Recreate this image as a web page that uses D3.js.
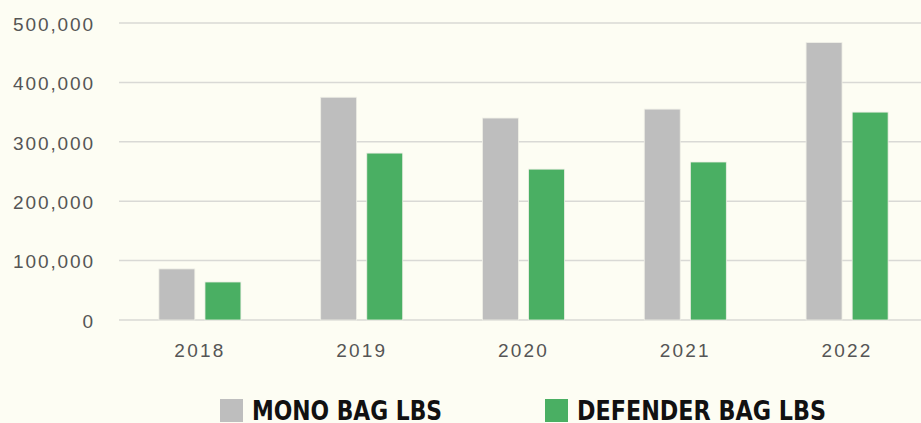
<!DOCTYPE html>
<html>
<head>
<meta charset="utf-8">
<script src="https://cdn.jsdelivr.net/npm/d3@7"></script>
<style>
  html, body { margin: 0; padding: 0; background: #fdfdf3; }
  svg { display: block; }
</style>
</head>
<body>
<div id="chart"></div>
<script>
// Data
var years = ['2018', '2019', '2020', '2021', '2022'];
var series = ['MONO BAG LBS', 'DEFENDER BAG LBS'];
var monoLbs = [86000, 375000, 340000, 355000, 467000];
var defenderLbs = [64000, 281000, 254000, 266000, 350000];
var yTicks = [0, 100000, 200000, 300000, 400000, 500000];
var colors = ['#bebebe', '#4aaf63'];

var w = 921;
var h = 423;

var svg = d3.select('#chart')
            .append('svg')
            .attr('width', w)
            .attr('height', h);

// plot area (no "top" here, that's window.top)
var plotLeft = 119, plotRight = 928, plotTop = 23, plotBottom = 320;

var x0 = d3.scaleBand()
           .domain(years)
           .range([plotLeft, plotRight])
           .paddingInner(0.493)
           .paddingOuter(0.2465);

var x1 = d3.scaleBand()
           .domain(series)
           .range([0, x0.bandwidth()])
           .paddingInner(0.22);

var y = d3.scaleLinear()
          .domain([0, 500000])
          .range([plotBottom, plotTop]);

// grid lines
svg.append('g')
   .selectAll('line')
   .data(yTicks)
   .enter().append('line')
   .attr('x1', plotLeft)
   .attr('x2', w)
   .attr('y1', function(d) { return y(d); })
   .attr('y2', function(d) { return y(d); })
   .attr('stroke', '#d9d9d5')
   .attr('stroke-width', 1.5);

// y labels
var yAxis = svg.append('g')
   .attr('transform', 'translate(95,0)')
   .call(d3.axisLeft(y).tickValues(yTicks).tickSize(0).tickPadding(0)
           .tickFormat(d3.format(',')));
yAxis.select('.domain').remove();
yAxis.selectAll('text')
     .attr('fill', '#555')
     .attr('font-family', 'Liberation Sans, Arial, sans-serif')
     .attr('font-size', '19px')
     .attr('letter-spacing', '1.9px')
     .attr('dy', '0.38em');

// x labels
var xAxis = svg.append('g')
   .attr('transform', 'translate(0,' + plotBottom + ')')
   .call(d3.axisBottom(x0).tickSize(0).tickPadding(24));
xAxis.select('.domain').remove();
xAxis.selectAll('text')
     .attr('fill', '#555')
     .attr('font-family', 'Liberation Sans, Arial, sans-serif')
     .attr('font-size', '19px')
     .attr('letter-spacing', '2.2px');

// bars
var rows = years.map(function(yr, i) {
  return { year: yr, values: [monoLbs[i], defenderLbs[i]] };
});

svg.append('g')
   .selectAll('g')
   .data(rows)
   .enter().append('g')
   .attr('transform', function(d) { return 'translate(' + x0(d.year) + ',0)'; })
   .selectAll('rect')
   .data(function(d) { return d.values.map(function(v, j) { return { key: series[j], value: v, j: j }; }); })
   .enter().append('rect')
   .attr('x', function(d) { return x1(d.key); })
   .attr('y', function(d) { return y(d.value); })
   .attr('width', x1.bandwidth())
   .attr('height', function(d) { return plotBottom - y(d.value); })
   .attr('fill', function(d) { return colors[d.j]; })
   .attr('stroke', '#efefe6')
   .attr('stroke-width', 0.8);

// legend
var legendX = [220, 545];
var legendW = [190, 249];
var legend = svg.append('g')
   .selectAll('g')
   .data(series)
   .enter().append('g')
   .attr('transform', function(d, i) { return 'translate(' + legendX[i] + ',399)'; });

legend.append('rect')
      .attr('width', 23)
      .attr('height', 23)
      .attr('fill', function(d, i) { return colors[i]; });

legend.append('text')
      .attr('x', 32)
      .attr('y', 21)
      .attr('font-family', 'Liberation Sans Narrow, DejaVu Sans Condensed, sans-serif')
      .attr('font-weight', 'bold')
      .attr('font-size', '26px')
      .attr('fill', '#111')
      .attr('textLength', function(d, i) { return legendW[i]; })
      .attr('lengthAdjust', 'spacingAndGlyphs')
      .text(function(d) { return d; });
</script>
</body>
</html>
